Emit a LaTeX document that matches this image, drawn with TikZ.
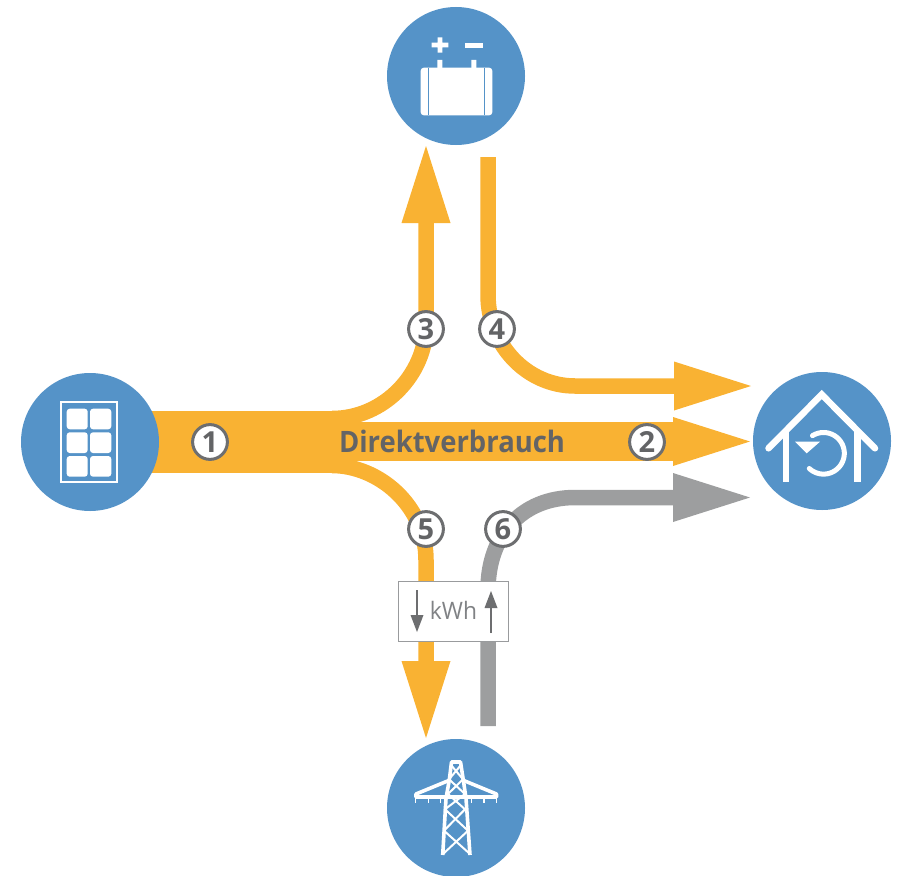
\documentclass[tikz,border=0pt]{standalone}
\usepackage{fontspec}
\usepackage{graphicx}
\setmainfont{Open Sans}
\usetikzlibrary{arrows.meta,backgrounds}
\definecolor{hubblue}{HTML}{5593C8}
\definecolor{flow}{HTML}{F9B233}
\definecolor{grid}{HTML}{9D9E9F}
\definecolor{ink}{HTML}{636466}
\definecolor{ring}{HTML}{6D6E70}
\definecolor{meter}{HTML}{808285}
\tikzset{
  hub/.style={circle,fill=hubblue,minimum size=138pt,inner sep=0pt},
  badge/.style={circle,draw=ring,fill=white,line width=3pt,minimum size=34.8pt,inner sep=0pt,text=ink,font=\fontsize{29}{29}\selectfont\bfseries},
  thin flow/.style={draw=flow,line width=15.5pt},
  thin grid/.style={draw=grid,line width=15.5pt},
  bighead/.style={-{Triangle[length=77pt,width=49pt,line width=0pt]}},
  meterbox/.style={draw=meter!80,fill=white,line width=1.2pt,minimum width=110pt,minimum height=60pt,inner sep=0pt},
  small arrow/.style={draw=ring,fill=ring,line width=1.6pt,-{Triangle[length=17pt,width=13pt,line width=0pt]}},
}
\begin{document}
\begin{tikzpicture}[x=1pt,y=-1pt]
\useasboundingbox (0,0) rectangle (899,875);
% hubs
\node[hub] (pv) at (90,442) {};
\node[hub] (bat) at (456,76) {};
\node[hub] (home) at (822,441) {};
\node[hub] (net) at (456,808) {};
% free ends
\coordinate (merge) at (332,441.5);
\coordinate (upstart) at (332,418.5);
\coordinate (upend) at (426,146);
\coordinate (downstart) at (332,465.5);
\coordinate (downend) at (426,738);
\coordinate (batout) at (488,157);
\coordinate (homea) at (751,386);
\coordinate (homeb) at (750,441.5);
\coordinate (homec) at (750,497.5);
\coordinate (gridout) at (488,726);
% connectors
\begin{pgfonlayer}{background}
\fill[flow] (pv.center |- 0,411) rectangle (332,473);
\draw[thin flow,bighead] (upstart) .. controls (384,418.5) and (426,374) .. (426,325) -- (upend);
\draw[thin flow,bighead] (downstart) .. controls (378,465.5) and (426,505) .. (426,560) -- (downend);
\draw[draw=flow,line width=39pt,bighead] (merge) -- (homeb);
\draw[thin flow,bighead] (batout) -- (488,295) .. controls (488,345) and (527,386) .. (575,386) -- (homea);
\draw[thin grid,bighead] (gridout) -- (488,590) .. controls (488,535) and (522,497.5) .. (575,497.5) -- (homec);
\end{pgfonlayer}
% text
\node[anchor=base,text=ink,font=\fontsize{29.5}{29.5}\selectfont\bfseries] (direct) at (452,452) {\scalebox{.93}[1]{Direktverbrauch}};
% badges
\node[badge] (n1) at (210,442) {1};
\node[badge] (n2) at (647,442) {2};
\node[badge] (n3) at (426,329) {3};
\node[badge] (n4) at (497,329) {4};
\node[badge] (n5) at (426,529) {5};
\node[badge] (n6) at (503,529) {6};
% meter
\node[meterbox] (kwh) at (453.5,611.5) {};
\node[anchor=base,text=meter,font=\fontsize{24}{24}\selectfont] (kwhtext) at (453.5,619) {\scalebox{.95}[1]{kWh}};
\coordinate (da) at (417,590);
\coordinate (db) at (417,632);
\coordinate (ua) at (491,633);
\coordinate (ub) at (491,591);
\draw[small arrow] (da) -- (db);
\draw[small arrow] (ua) -- (ub);
% battery icon
\fill[white,rounded corners=3pt] (420.7,67.7) rectangle (492.3,115.3);
\fill[hubblue] (427.7,67.7) rectangle (429,115.3);
\fill[hubblue] (483.6,67.7) rectangle (484.9,115.3);
\fill[white] (437.3,60) rectangle (442.3,68) (471.3,60) rectangle (476.3,68);
\fill[white] (431.7,42.7) rectangle (448.4,47.5) (437.7,37.3) rectangle (442.3,52.7);
\fill[white] (465.3,42.7) rectangle (482.7,48.3);
% panel icon
\draw[white,line width=1.7pt] (60.7,402) rectangle (116.7,482);
\foreach \xa/\xb in {66.7/87.7,90/111.3}
  \foreach \ya/\yb in {408.7/429.3,432.3/453,456/476.7}
    \fill[white,rounded corners=3pt] (\xa,\ya) rectangle (\xb,\yb);
% house icon
\draw[white,line width=6.5pt,line cap=round,line join=miter] (768.5,448.3) -- (821.7,394.5) -- (875,448.3);
\draw[white,line width=6.5pt] (786,431) -- (786,481.7) (857.7,431) -- (857.7,481.7);
\draw[white,line width=5pt,line cap=round] plot[domain=133:-122,samples=70] ({823.5+20.8*cos(\x)},{453.3+20.8*sin(\x)});
\fill[white] (795,441.7) -- (820,441.7) -- (806.7,453.3) -- cycle;
% pylon icon
\draw[white,line width=3.6pt,line join=round] (442.7,855) -- (446,798.3) -- (449.3,780) -- (451.5,762) -- (460.5,762) -- (463.3,780) -- (466,798.3) -- (470,855);
\draw[white,line width=3.6pt,line join=round] (450,780) -- (416,794) -- (416,797) -- (496.5,797) -- (496.5,794) -- (462.5,780);
\foreach \tx in {415.7,428.3,440.7,471.7,484,496.7}
  \draw[white,line width=1.3pt] (\tx,797) -- (\tx,803);
\draw[white,line width=2pt] (451,765) -- (463,779.3) -- (448,794) -- (465,809.3) -- (444,830.7) -- (470,854);
\draw[white,line width=2pt] (461,765) -- (449,779.3) -- (465,794) -- (445,809.3) -- (468,830.7) -- (443,854);
\end{tikzpicture}
\end{document}
